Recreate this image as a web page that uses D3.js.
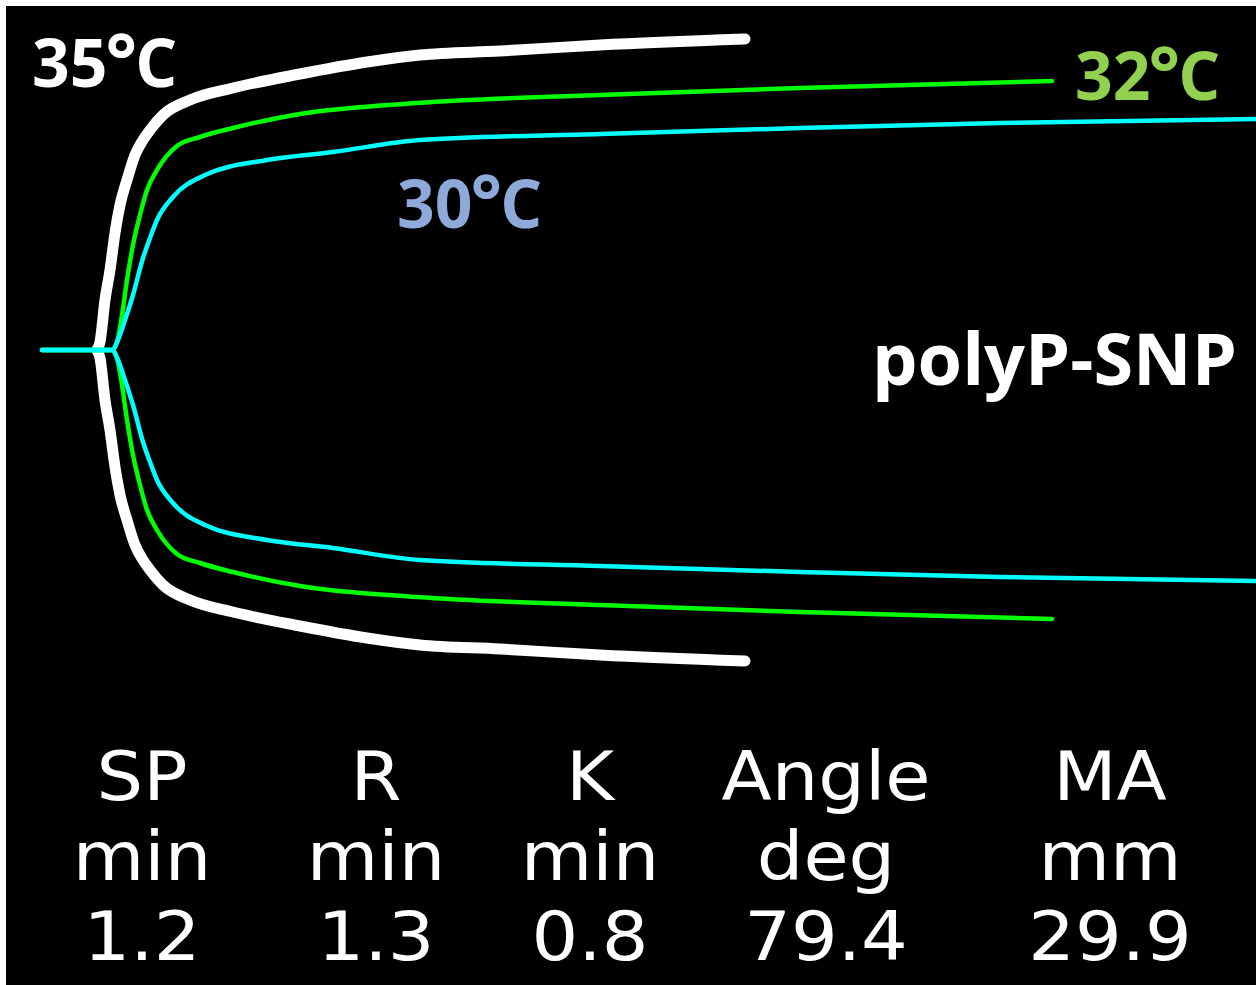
<!DOCTYPE html>
<html>
<head>
<meta charset="utf-8">
<script src="https://cdn.jsdelivr.net/npm/d3@7"></script>
<style>
  html, body { margin: 0; padding: 0; background: #ffffff; }
  svg { display: block; }
</style>
</head>
<body>
<svg id="chart" width="1256" height="985"></svg>
<script>
// Thromboelastography tracings of polyP-SNP at three temperatures.
// time in minutes, amplitude in mm (full width of the tracing)
const time35 = [2.75, 2.9, 3.15, 3.4, 3.65, 3.9, 4.25, 4.65, 5.05, 5.4, 6.05, 7.4, 9.55, 12.9, 16.25, 18.9, 22.9, 27.9, 35.15];
const amp35  = [0, 1.6, 10, 16, 23.4, 29, 34, 39, 42, 44, 47, 50, 52.4, 55.2, 57.6, 59, 59.8, 61, 62.2];

const time32 = [0, 3.5, 3.75, 4.0, 4.25, 4.55, 4.9, 5.25, 5.75, 6.75, 7.9, 9.55, 12.9, 18.75, 27.9, 37.9, 50.5];
const amp32  = [0, 0, 1.6, 7, 14, 21, 27, 32, 36, 40.8, 42.6, 44.4, 47.2, 49.4, 51, 52.4, 53.8];

const time30 = [0, 3.5, 3.8, 4.15, 4.55, 5.05, 5.4, 5.75, 6.55, 8.15, 11.25, 14.55, 18.9, 27.9, 37.9, 47.9, 60.7];
const amp30  = [0, 0, 2, 6, 11, 18.4, 22.4, 26, 30.6, 35, 38, 39.6, 42, 43.2, 44.4, 45.4, 46.2];

const seriesTemps  = ["35", "32", "30"];
const seriesColors = ["#ffffff", "#00ff00", "#00ffff"];
const labelColors  = ["#ffffff", "#92d050", "#8eaadb"];

// result table
const paramNames  = ["SP", "R", "K", "Angle", "MA"];
const paramUnits  = ["min", "min", "min", "deg", "mm"];
const paramValues = ["1.2", "1.3", "0.8", "79.4", "29.9"];

const W = 1256, H = 985;
const svg = d3.select("#chart");

// black panel inside a thin white frame on the top and left
svg.append("rect").attr("x", 6).attr("y", 6).attr("width", W - 6).attr("height", H - 6).attr("fill", "#000");

const x = d3.scaleLinear().domain([0, 60]).range([42, 1242]);
const y = d3.scaleLinear().domain([-35, 35]).range([700, 0]);

const series = [
  { t: time35, a: amp35, width: 11 },
  { t: time32, a: amp32, width: 4.5 },
  { t: time30, a: amp30, width: 4.5 }
];

const g = svg.append("g");
series.forEach((s, i) => {
  const pts = s.t.map((t, j) => ({ t, a: s.a[j] }));
  [1, -1].forEach(sign => {
    const line = d3.line()
      .x(d => x(d.t))
      .y(d => y(sign * d.a / 2))
      .curve(d3.curveMonotoneX);
    g.append("path")
      .datum(pts)
      .attr("d", line)
      .attr("fill", "none")
      .attr("stroke", seriesColors[i])
      .attr("stroke-width", s.width)
      .attr("stroke-linejoin", "round")
      .attr("stroke-linecap", "round");
  });
});

// temperature labels
const labelFont = "'Open Sans', 'Noto Sans', sans-serif";
const labelPos = [[32, 87], [1075, 100], [397, 228]];
seriesTemps.forEach((temp, i) => {
  const t = svg.append("text")
    .attr("x", labelPos[i][0]).attr("y", labelPos[i][1])
    .attr("fill", labelColors[i])
    .attr("font-family", labelFont)
    .attr("font-weight", 700)
    .attr("font-size", 66);
  t.append("tspan").text(temp);
  t.append("tspan").attr("font-size", 74).attr("dx", -2).text("\u00B0");
  t.append("tspan").attr("dx", -2).text("C");
});

svg.append("text")
  .attr("x", 872).attr("y", 385)
  .attr("fill", "#ffffff")
  .attr("font-family", labelFont)
  .attr("font-weight", 700)
  .attr("font-size", 72)
  .text("polyP-SNP");

// parameter table under the tracing (glyphs widened slightly)
const colX = [142, 376, 590, 826, 1110];
const rowY = [800, 880, 960];
const tableFont = "'DejaVu Sans', Verdana, sans-serif";
[paramNames, paramUnits, paramValues].forEach((row, r) => {
  svg.append("g").selectAll("text")
    .data(row)
    .join("text")
    .attr("transform", (d, i) => `translate(${colX[i]},${rowY[r]}) scale(1.08,1)`)
    .attr("text-anchor", "middle")
    .attr("fill", "#ffffff")
    .attr("font-family", tableFont)
    .attr("font-size", 68)
    .text(d => d);
});
</script>
</body>
</html>
